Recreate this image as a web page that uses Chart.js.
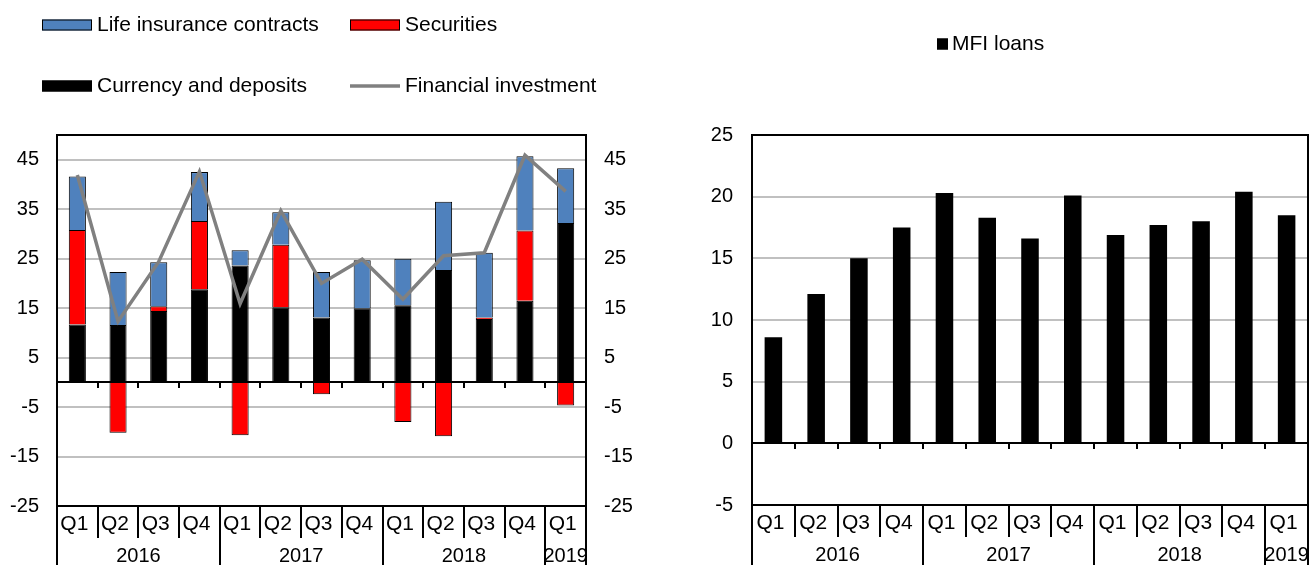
<!DOCTYPE html>
<html><head><meta charset="utf-8">
<script src="https://cdn.jsdelivr.net/npm/chart.js@4"></script>
<style>
html,body{margin:0;padding:0;background:#fff;overflow:hidden}
#wrap{position:relative;width:1312px;height:565px;background:#fff}
#c1{position:absolute;left:0;top:0}
#c2{position:absolute;left:655px;top:0}
</style></head><body>
<div id="wrap">
<canvas id="c1" width="655" height="565"></canvas>
<canvas id="c2" width="657" height="565"></canvas>
</div>
<script>
// ---- data ----
const quarters = ['Q1','Q2','Q3','Q4','Q1','Q2','Q3','Q4','Q1','Q2','Q3','Q4','Q1'];
const years = ['2016','2017','2018','2019'];
const yearSpans = [4,4,4,1];
const currencyDeposits = [11.7, 11.6, 14.4, 18.8, 23.6, 15.2, 13.1, 15.0, 15.6, 22.7, 12.8, 16.5, 32.2];
const securities =       [19.1, -10.2, 1.0, 13.8, -10.7, 12.6, -2.4, 0.0, -8.0, -10.9, 0.3, 14.2, -4.7];
const lifeInsurance =    [10.8, 10.7, 8.9, 9.9, 3.1, 6.6, 9.2, 9.7, 9.4, 13.8, 13.1, 15.0, 11.1];
const financialInvestment = [41.9, 12.3, 24.4, 42.6, 15.9, 34.7, 20.0, 24.9, 16.8, 25.6, 26.2, 45.9, 38.6];
const mfiLoans = [8.6, 12.1, 15.0, 17.5, 20.3, 18.3, 16.6, 20.1, 16.9, 17.7, 18.0, 20.4, 18.5];
const leftTicks = [-25, -15, -5, 5, 15, 25, 35, 45];
const rightTicks = [-5, 0, 5, 10, 15, 20, 25];

const FONT = '"Liberation Sans", Arial, sans-serif';
const FS = 20;
const LFS = 21;
Chart.defaults.font.family = FONT;
Chart.defaults.font.size = FS;
Chart.defaults.color = '#000';

function decorPlugin(legendItems) {
  return {
    id: 'decor',
    afterDatasetsDraw(chart) {
      const {ctx, chartArea: a} = chart;
      const x = chart.scales.x, y = chart.scales.y;
      const n = chart.data.labels.length;
      const half = (x.getPixelForValue(1) - x.getPixelForValue(0)) / 2;
      const bnd = i => (i === 0 ? a.left : i === n ? a.right : x.getPixelForValue(i) - half);
      ctx.save();
      ctx.strokeStyle = '#000';
      ctx.lineWidth = 2;
      // zero line with tick marks
      const y0 = Math.round(y.getPixelForValue(0));
      ctx.beginPath();
      ctx.moveTo(a.left, y0); ctx.lineTo(a.right, y0);
      for (let i = 1; i < n; i++) {
        const px = Math.round(bnd(i));
        ctx.moveTo(px, y0); ctx.lineTo(px, y0 + 6);
      }
      ctx.stroke();
      // frame
      ctx.strokeRect(a.left, a.top, a.right - a.left, a.bottom - a.top);
      // category separators
      const yearB = new Set();
      let acc = 0; yearB.add(0);
      yearSpans.forEach(s => { acc += s; yearB.add(acc); });
      ctx.beginPath();
      for (let i = 0; i <= n; i++) {
        const px = Math.round(bnd(i));
        ctx.moveTo(px, a.bottom);
        ctx.lineTo(px, yearB.has(i) ? chart.height : a.bottom + 32);
      }
      ctx.stroke();
      // year labels
      ctx.fillStyle = '#000';
      ctx.font = FS + 'px ' + FONT;
      ctx.textAlign = 'center';
      ctx.textBaseline = 'middle';
      let start = 0;
      years.forEach((yr, k) => {
        const end = start + yearSpans[k];
        const cx = (x.getPixelForValue(start) + x.getPixelForValue(end - 1)) / 2;
        ctx.fillText(yr, cx, a.bottom + 50);
        start = end;
      });
      // legend
      ctx.textAlign = 'left';
      ctx.font = LFS + 'px ' + FONT;
      legendItems.forEach(it => {
        const ds = chart.data.datasets[it.ds];
        if (it.kind === 'rect') {
          ctx.fillStyle = ds.backgroundColor;
          ctx.fillRect(it.x, it.y - it.h / 2, it.w, it.h);
          ctx.lineWidth = 1;
          ctx.strokeStyle = '#000';
          ctx.strokeRect(it.x + 0.5, it.y - it.h / 2 + 0.5, it.w - 1, it.h - 1);
        } else {
          ctx.strokeStyle = ds.borderColor;
          ctx.lineWidth = 3.5;
          ctx.beginPath(); ctx.moveTo(it.x, it.y); ctx.lineTo(it.x + it.w, it.y); ctx.stroke();
        }
        ctx.fillStyle = '#000';
        ctx.fillText(ds.label, it.x + it.w + it.gap, it.y);
      });
      ctx.restore();
    }
  };
}

const gridColor = '#c0c0c0';

// ---- left chart ----
new Chart(document.getElementById('c1'), {
  data: {
    labels: quarters,
    datasets: [
      {type: 'bar', label: 'Currency and deposits', data: currencyDeposits, backgroundColor: '#000000', borderColor: '#000', borderWidth: 1, stack: 'a', order: 2, categoryPercentage: 1, barPercentage: 0.42},
      {type: 'bar', label: 'Securities', data: securities, backgroundColor: '#ff0000', borderColor: '#000', borderWidth: 1, stack: 'a', order: 2, categoryPercentage: 1, barPercentage: 0.42},
      {type: 'bar', label: 'Life insurance contracts', data: lifeInsurance, backgroundColor: '#4f81bd', borderColor: '#000', borderWidth: 1, stack: 'a', order: 2, categoryPercentage: 1, barPercentage: 0.42},
      {type: 'line', label: 'Financial investment', data: financialInvestment, borderColor: '#808080', backgroundColor: '#808080', borderWidth: 3.5, pointRadius: 0, tension: 0, stack: 'line', order: 1}
    ]
  },
  options: {
    responsive: false, animation: false, devicePixelRatio: 1,
    layout: {padding: {top: 135, left: 0, right: 0, bottom: 0}},
    plugins: {legend: {display: false}, tooltip: {enabled: false}},
    scales: {
      x: {stacked: true, offset: true, grid: {display: false}, border: {display: false},
          ticks: {autoSkip: false, maxRotation: 0, padding: -2, labelOffset: -3, font: {size: 21}},
          afterFit: s => { s.height = 59; }},
      y: {stacked: true, position: 'left', min: -25, max: 50,
          afterBuildTicks: s => { s.ticks = leftTicks.map(v => ({value: v})); },
          grid: {color: gridColor, lineWidth: 2, drawTicks: false}, border: {display: false},
          ticks: {padding: 18},
          afterFit: s => { s.width = 57; }},
      y2: {position: 'right', min: -25, max: 50,
          afterBuildTicks: s => { s.ticks = leftTicks.map(v => ({value: v})); },
          grid: {display: false, drawTicks: false}, border: {display: false},
          ticks: {padding: 18},
          afterFit: s => { s.width = 69; }}
    }
  },
  plugins: [decorPlugin([
    {ds: 2, kind: 'rect', x: 42, y: 25, w: 50, h: 11, gap: 5},
    {ds: 1, kind: 'rect', x: 350, y: 25, w: 50, h: 11, gap: 5},
    {ds: 0, kind: 'rect', x: 42, y: 86, w: 50, h: 11, gap: 5},
    {ds: 3, kind: 'line', x: 350, y: 86, w: 50, h: 3, gap: 5}
  ])]
});

// ---- right chart ----
new Chart(document.getElementById('c2'), {
  data: {
    labels: quarters,
    datasets: [
      {type: 'bar', label: 'MFI loans', data: mfiLoans, backgroundColor: '#000000', borderWidth: 0, categoryPercentage: 1, barPercentage: 0.41}
    ]
  },
  options: {
    responsive: false, animation: false, devicePixelRatio: 1,
    layout: {padding: {top: 135, left: 0, right: 4, bottom: 0}},
    plugins: {legend: {display: false}, tooltip: {enabled: false}},
    scales: {
      x: {offset: true, grid: {display: false}, border: {display: false},
          ticks: {autoSkip: false, maxRotation: 0, padding: -2, labelOffset: -3, font: {size: 21}},
          afterFit: s => { s.height = 60; }},
      y: {position: 'left', min: -5, max: 25,
          afterBuildTicks: s => { s.ticks = rightTicks.map(v => ({value: v})); },
          grid: {color: gridColor, lineWidth: 2, drawTicks: false}, border: {display: false},
          ticks: {padding: 19},
          afterFit: s => { s.width = 97; }}
    }
  },
  plugins: [decorPlugin([
    {ds: 0, kind: 'rect', x: 282, y: 44, w: 11, h: 11, gap: 4}
  ])]
});
</script>
</body></html>
